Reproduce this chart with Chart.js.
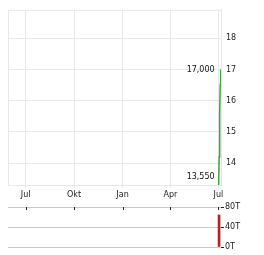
<!DOCTYPE html>
<html>
<head>
<meta charset="utf-8">
<script src="https://cdn.jsdelivr.net/npm/chart.js@4/dist/chart.umd.min.js"></script>
<style>
  body { margin: 0; background: #fff; }
  #wrap { position: relative; width: 264px; height: 255px; }
  #price { position: absolute; left: 0; top: 0; }
  #vol { position: absolute; left: 0; top: 200px; }
</style>
</head>
<body>
<div id="wrap">
  <canvas id="price" width="264" height="205"></canvas>
  <canvas id="vol" width="264" height="55"></canvas>
</div>
<script>
// days counted from the first "Jul" on the axis
var tickDays = [0, 92, 184, 275, 366];
var tickLabels = ["Jul", "Okt", "Jan", "Apr", "Jul"];

// price line
var priceDays = [366.5, 367.5, 368.5, 369.5, 370.3];
var prices = [13.3, 14.2, 15.6, 16.5, 17.0];

// high / low markers
var markDays = [370.3, 366.5];
var markValues = [17.0, 13.55];
var markTexts = ["17,000", "13,550"];

// volume
var volDays = [367.3];
var volumes = [64];
var volTicks = [0, 40, 80];
var volTickLabels = ["0T", "40T", "80T"];

var priceTicks = [14, 15, 16, 17, 18];

var font = { family: "DejaVu Sans", size: 8 };
var txt = "#222";

var boxPlugin = {
  id: "box",
  beforeDatasetsDraw: function(chart) {
    var a = chart.chartArea, c = chart.ctx;
    c.save();
    c.strokeStyle = "#e8e8e8";
    c.lineWidth = 1;
    c.strokeRect(a.left + 0.5, a.top + 0.5, a.right - a.left, a.bottom - a.top);
    c.restore();
  }
};

var markPlugin = {
  id: "marks",
  afterDatasetsDraw: function(chart) {
    var c = chart.ctx, xs = chart.scales.x, ys = chart.scales.y;
    c.save();
    c.font = "8px 'DejaVu Sans'";
    c.fillStyle = "#111";
    c.textAlign = "right";
    c.textBaseline = "middle";
    for (var i = 0; i < markTexts.length; i++) {
      var px = xs.getPixelForValue(370.3) - 6;
      c.fillText(markTexts[i], px, ys.getPixelForValue(markValues[i]));
    }
    c.restore();
  }
};

new Chart(document.getElementById("price"), {
  type: "line",
  data: {
    datasets: [{
      data: priceDays.map(function(d, i) { return { x: d, y: prices[i] }; }),
      borderColor: "#3aa63a",
      borderWidth: 1.5,
      pointRadius: 0,
      tension: 0,
      fill: false
    }]
  },
  options: {
    responsive: false,
    animation: false,
    layout: { padding: { left: 8, top: 7, right: 0, bottom: 0 } },
    plugins: { legend: { display: false }, tooltip: { enabled: false } },
    scales: {
      x: {
        type: "linear",
        min: -33.5,
        max: 371,
        afterBuildTicks: function(s) { s.ticks = tickDays.map(function(v) { return { value: v }; }); },
        afterFit: function(s) { s.height = 20; },
        ticks: {
          autoSkip: false,
          maxRotation: 0,
          padding: 2,
          color: txt,
          font: font,
          callback: function(v) { var i = tickDays.indexOf(v); return i < 0 ? "" : tickLabels[i]; }
        },
        grid: { color: "#e8e8e8", tickLength: 3 },
        border: { color: "#e8e8e8" }
      },
      y: {
        position: "right",
        min: 13.3,
        max: 18.91,
        afterBuildTicks: function(s) { s.ticks = priceTicks.map(function(v) { return { value: v }; }); },
        afterFit: function(s) { s.width = 43; },
        ticks: { padding: 5, color: txt, font: font },
        grid: { color: "#e8e8e8", drawTicks: false },
        border: { color: "#e8e8e8" }
      }
    }
  },
  plugins: [boxPlugin, markPlugin]
});

var volTickPlugin = {
  id: "volticks",
  afterDatasetsDraw: function(chart) {
    var c = chart.ctx, xs = chart.scales.x, a = chart.chartArea;
    c.save();
    c.strokeStyle = "#222";
    c.lineWidth = 1;
    tickDays.forEach(function(d) {
      var px = Math.round(xs.getPixelForValue(d)) + 0.5;
      c.beginPath();
      c.moveTo(px, a.top);
      c.lineTo(px, a.top + 3);
      c.stroke();
    });
    c.restore();
  }
};

new Chart(document.getElementById("vol"), {
  type: "bar",
  data: {
    datasets: [{
      data: volDays.map(function(d, i) { return { x: d, y: volumes[i] }; }),
      backgroundColor: "#b22222",
      barThickness: 2
    }]
  },
  options: {
    responsive: false,
    animation: false,
    layout: { padding: { left: 8, top: 7, right: 0, bottom: 8 } },
    plugins: { legend: { display: false }, tooltip: { enabled: false } },
    scales: {
      x: {
        type: "linear",
        offset: false,
        min: -33.5,
        max: 371,
        display: false
      },
      y: {
        position: "right",
        min: 0,
        max: 80,
        afterBuildTicks: function(s) { s.ticks = volTicks.map(function(v) { return { value: v }; }); },
        afterFit: function(s) { s.width = 43; },
        ticks: {
          padding: 1,
          color: txt,
          font: font,
          callback: function(v) { var i = volTicks.indexOf(v); return i < 0 ? "" : volTickLabels[i]; }
        },
        grid: { color: "#c8c8c8", tickColor: "#222", tickLength: 3 },
        border: { display: false }
      }
    }
  },
  plugins: [volTickPlugin]
});
</script>
</body>
</html>
